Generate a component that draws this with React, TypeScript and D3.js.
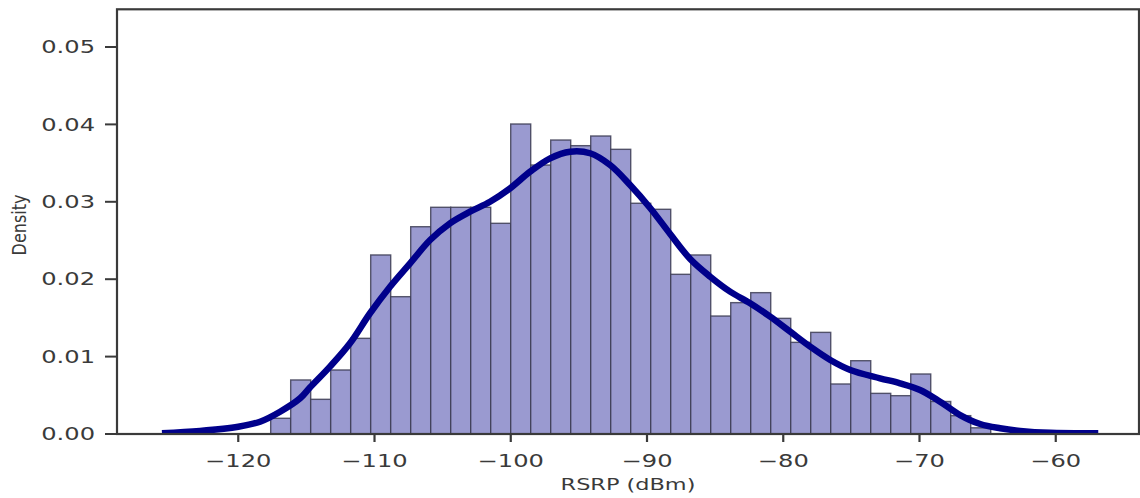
import React from "react";
import * as d3 from "d3";

// Histogram (density) bins
const binStart = -117.62;
const binWidth = 1.468;
const binDensities = [
  0.00203, 0.00698, 0.00448, 0.00827, 0.01236, 0.02313, 0.01774, 0.02678,
  0.02929, 0.02929, 0.02929, 0.02722, 0.04005, 0.03475, 0.03798, 0.03725,
  0.0385, 0.03678, 0.02981, 0.02903, 0.02063, 0.02313, 0.01524, 0.01697,
  0.01826, 0.01494, 0.01184, 0.01313, 0.00646, 0.00947, 0.00525, 0.00495,
  0.00775, 0.0042, 0.00237, 0.0008,
];

// KDE curve
const kdeX = [
  -125.6, -122.81, -120.0, -118.4, -116.93, -115.46, -114.74, -113.27, -111.8,
  -110.33, -108.86, -107.39, -105.92, -104.46, -102.99, -101.52, -100.05,
  -98.58, -97.11, -95.64, -94.18, -92.71, -91.24, -89.77, -88.3, -86.83,
  -85.36, -83.9, -82.43, -80.96, -79.49, -78.02, -76.55, -75.08,
  -72.9, -71.43, -69.96, -68.49, -67.02, -65.55, -64.08, -62.61, -60.4, -56.88,
];
const kdeY = [
  0.0001, 0.0004, 0.00094, 0.00159, 0.00288, 0.00461, 0.006, 0.0087, 0.01172,
  0.0156, 0.01903, 0.02205, 0.02506, 0.02722, 0.02872, 0.03001, 0.03174,
  0.03389, 0.03562, 0.03647, 0.03627, 0.03475, 0.03217, 0.0292, 0.02584,
  0.02261, 0.02032, 0.01839, 0.01689, 0.01516, 0.01322, 0.01128, 0.00956,
  0.00827, 0.0072, 0.00655, 0.00568, 0.00417, 0.00245, 0.00129,
  0.00074, 0.0004, 0.00015, 0.0001,
];

const xTicks = [-120, -110, -100, -90, -80, -70, -60];
const yTicks = [0, 0.01, 0.02, 0.03, 0.04, 0.05];
const xLabel = "RSRP (dBm)";
const yLabel = "Density";

const W = 1140;
const H = 498;
const M = { left: 117, right: 1139, top: 9.3, bottom: 434 };
const TEXT = "#3a3a3a";
const SX = 1.38;

export default function App() {
  const x = d3.scaleLinear().domain([-128.9, -53.89]).range([M.left, M.right]);
  const y = d3.scaleLinear().domain([0, 0.05487]).range([M.bottom, M.top]);

  const bins = binDensities.map((d, i) => ({
    x0: binStart + i * binWidth,
    x1: binStart + (i + 1) * binWidth,
    d,
  }));

  const pts: [number, number][] = kdeX.map((v, i) => [v, kdeY[i]]);
  const line = d3
    .line<[number, number]>()
    .x((p) => x(p[0]))
    .y((p) => y(p[1]))
    .curve(d3.curveCatmullRom.alpha(0.5));

  const font = "'DejaVu Sans', Verdana, sans-serif";

  return (
    <svg
      width={W}
      height={H}
      style={{ position: "fixed", left: 0, top: 0, background: "#fff" }}
      fontFamily={font}
    >
      <defs>
        <clipPath id="plotClip">
          <rect x={M.left} y={M.top} width={M.right - M.left} height={M.bottom - M.top} />
        </clipPath>
      </defs>
      <rect x={0} y={0} width={W} height={H} fill="#fff" />
      <g clipPath="url(#plotClip)">
        {bins.map((b, i) => (
          <rect
            key={i}
            x={x(b.x0)}
            y={y(b.d)}
            width={x(b.x1) - x(b.x0)}
            height={y(0) - y(b.d)}
            fill="#9a9ad0"
            stroke="#3d3d55"
            strokeOpacity={0.85}
            strokeWidth={1.4}
          />
        ))}
        <path
          d={line(pts) || ""}
          fill="none"
          stroke="#00008b"
          strokeWidth={6.5}
          strokeLinecap="butt"
          strokeLinejoin="round"
        />
      </g>
      <rect
        x={M.left}
        y={M.top}
        width={M.right - M.left}
        height={M.bottom - M.top}
        fill="none"
        stroke="#3a3a3a"
        strokeWidth={2.2}
      />
      {yTicks.map((t) => (
        <g key={t}>
          <line x1={M.left - 12} x2={M.left} y1={y(t)} y2={y(t)} stroke="#3a3a3a" strokeWidth={2} />
          <text
            transform={`translate(95, ${y(t)}) scale(${SX},1)`}
            textAnchor="end"
            dy="0.36em"
            fontSize={17.5}
            fill={TEXT}
          >
            {t.toFixed(2)}
          </text>
        </g>
      ))}
      {xTicks.map((t) => (
        <g key={t}>
          <line x1={x(t)} x2={x(t)} y1={M.bottom} y2={M.bottom + 8} stroke="#3a3a3a" strokeWidth={2.2} />
          <text
            transform={`translate(${x(t)}, 467) scale(${SX},1)`}
            textAnchor="middle"
            fontSize={17.5}
            fill={TEXT}
          >
            {t < 0 ? "\u2212" + Math.abs(t) : String(t)}
          </text>
        </g>
      ))}
      <text
        transform={`translate(628, 490) scale(1.4,1)`}
        textAnchor="middle"
        fontSize={16}
        fill={TEXT}
      >
        {xLabel}
      </text>
      <text
        transform={`translate(26, 225) scale(1.2,1) rotate(-90)`}
        textAnchor="middle"
        fontSize={16}
        fill={TEXT}
      >
        {yLabel}
      </text>
    </svg>
  );
}
